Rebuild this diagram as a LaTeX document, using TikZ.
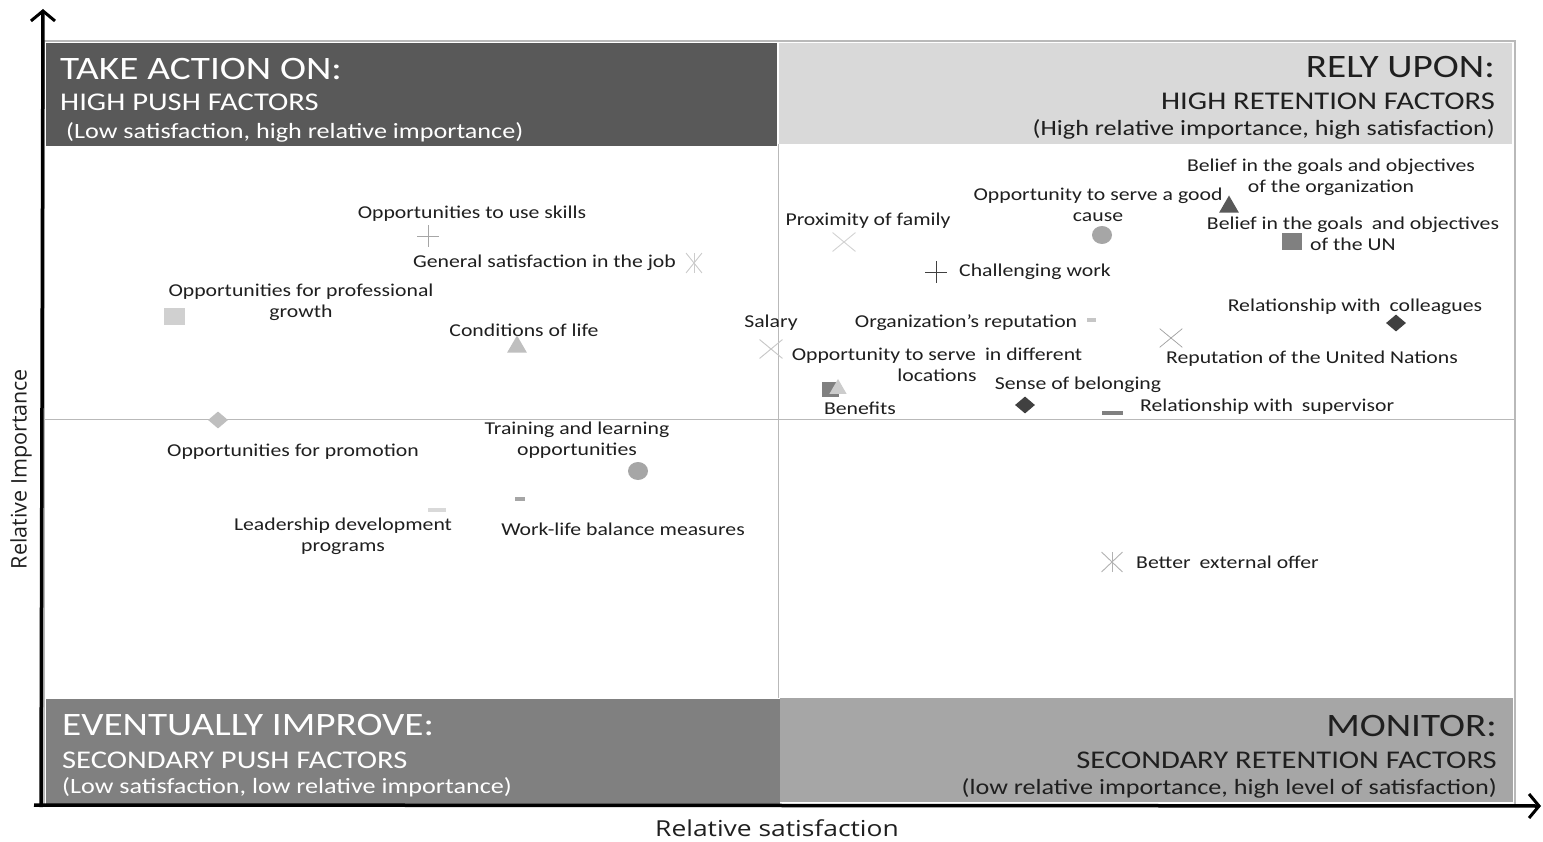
\documentclass[tikz,border=0pt]{standalone}
\usepackage{fontspec}
\setmainfont{Carlito}[FakeStretch=1.2]
\newfontfamily\axisfont{Open Sans}
\newfontfamily\axisfontw{Open Sans}[FakeStretch=1.2]
\usetikzlibrary{arrows.meta,shapes.geometric,shapes.misc}
\definecolor{dk}{HTML}{595959}
\definecolor{lt}{HTML}{D9D9D9}
\definecolor{md}{HTML}{808080}
\definecolor{mr}{HTML}{A6A6A6}
\definecolor{txt}{HTML}{1F1F1F}
\tikzset{
  lbl/.style={font=\fontsize{18.1}{21}\selectfont, inner sep=0pt, align=center, text=txt},
  hbig/.style={font=\fontsize{32.7}{36}\selectfont, inner sep=0pt},
  hmid/.style={font=\fontsize{25.5}{28}\selectfont, inner sep=0pt},
  hsml/.style={font=\fontsize{21.8}{24}\selectfont, inner sep=0pt},
  sqm/.style={rectangle, inner sep=0pt, minimum width=20pt, minimum height=17pt},
  trim/.style={regular polygon, regular polygon sides=3, inner sep=0pt, minimum size=23pt},
  diam/.style={diamond, inner sep=0pt, minimum width=20pt, minimum height=17pt},
  circm/.style={ellipse, inner sep=0pt, minimum width=20pt, minimum height=18pt},
  dashm/.style={rectangle, inner sep=0pt, minimum height=4.5pt},
  xm/.style={cross out, draw, inner sep=0pt, minimum width=22pt, minimum height=18pt, line width=0.9pt},
  plusm/.style={cross out, draw, inner sep=0pt, minimum size=14pt, rotate=45, line width=0.9pt},
  astm/.style={cross out, draw, inner sep=0pt, minimum width=15pt, minimum height=19pt, line width=0.9pt},
  axis/.style={line width=3.5pt, black, -{Straight Barb[length=10pt,width=24pt,line width=3pt]}},
  grid/.style={draw=gray!55, line width=1.2pt}
}
\begin{document}
\begin{tikzpicture}[x=1pt,y=-1pt]
\useasboundingbox[fill=white] (0,0) rectangle (1543,842);
% frame and quadrant boxes
\draw[grid] (44,41) rectangle (1515,805);
\fill[dk] (46,43) rectangle (777,146);
\fill[lt] (779,43) rectangle (1512,144);
\fill[md] (46,699) rectangle (780,805);
\fill[mr] (780,698) rectangle (1513,802);
\draw[grid, line width=1pt] (778,144) -- (778,698);
\draw[grid, line width=1pt] (44,419) -- (1515,419);
% axes
\coordinate (yo) at (41,807);
\coordinate (yt) at (43,9);
\coordinate (xo) at (34,805);
\coordinate (xt) at (1541,806);
\draw[axis] (yo) -- (yt);
\draw[axis] (xo) -- (xt);
\node[font=\axisfontw\fontsize{22}{26}\selectfont, text=txt, inner sep=0pt] (xl) at (777,828) {Relative satisfaction};
\node[font=\axisfont\fontsize{21.5}{26}\selectfont, text=txt, inner sep=0pt, rotate=90] (yl) at (21,469) {Relative Importance};
% headers
\node[hbig, text=white, anchor=base west] (h1a) at (60,80) {TAKE ACTION ON:};
\node[hmid, text=white, anchor=base west] (h1b) at (60,111) {HIGH PUSH FACTORS};
\node[hsml, text=white, anchor=base west] (h1c) at (66,139) {(Low satisfaction, high relative importance)};
\node[hbig, text=txt, anchor=base east] (h2a) at (1495,78) {RELY UPON:};
\node[hmid, text=txt, anchor=base east] (h2b) at (1495,110) {HIGH RETENTION FACTORS};
\node[hsml, text=txt, anchor=base east] (h2c) at (1495,136) {(High relative importance, high satisfaction)};
\node[hbig, text=white, anchor=base west] (h3a) at (62,735) {EVENTUALLY IMPROVE:};
\node[hmid, text=white, anchor=base west] (h3b) at (62,768) {SECONDARY PUSH FACTORS};
\node[hsml, text=white, anchor=base west] (h3c) at (62,793) {(Low satisfaction, low relative importance)};
\node[hbig, text=txt, anchor=base east] (h4a) at (1497,736) {MONITOR:};
\node[hmid, text=txt, anchor=base east] (h4b) at (1497,768) {SECONDARY RETENTION FACTORS};
\node[hsml, text=txt, anchor=base east] (h4c) at (1497,794) {(low relative importance, high level of satisfaction)};
% --- left half points
\node[lbl] (l1) at (472,214) {Opportunities to use skills};
\node[plusm, draw=gray!70] (m1) at (428,236) {};
\node[lbl, anchor=west] (l2) at (413,263) {General satisfaction in the job};
\node[astm, draw=gray!40] (m2) at (694,263) {};
\draw[gray!40, line width=0.9pt] (m2.north) -- (m2.south);
\node[lbl] (l3) at (301,302) {Opportunities for professional\\growth};
\node[sqm, fill=lt!90!gray, minimum width=21pt] (m3) at (174,317) {};
\node[lbl] (l4) at (524,330) {Conditions of life};
\node[trim, fill=gray!50] (m4) at (517,347) {};
\node[lbl] (l5) at (771,323) {Salary};
\node[xm, draw=gray!45] (m5) at (771,349) {};
\node[lbl] (l6) at (293,452) {Opportunities for promotion};
\node[diam, fill=gray!50] (m6) at (218,420) {};
\node[lbl] (l7) at (577,440) {Training and learning\\opportunities};
\node[circm, fill=gray!70] (m7) at (638,471) {};
\node[dashm, fill=mr, minimum width=10pt] (m8) at (520,499) {};
\node[lbl] (l8) at (623,529) {Work-life balance measures};
\node[dashm, fill=lt, minimum width=18pt] (m9) at (437,510) {};
\node[lbl] (l9) at (343,536) {Leadership development\\programs};
% --- right half points
\node[lbl] (r1) at (868,221) {Proximity of family};
\node[xm, draw=gray!35] (n1) at (844,242) {};
\node[lbl] (r2) at (1098,205) {Opportunity to serve a good\\cause};
\node[circm, fill=mr] (n2) at (1102,235) {};
\node[lbl] (r3) at (1331,177) {Belief in the goals and objectives\\of the organization};
\node[trim, fill=dk] (n3) at (1229,207) {};
\node[lbl, anchor=base] (r4) at (1353,230) {Belief in the goals\enspace and objectives};
\node[lbl, anchor=base west] (r4b) at (1310,251) {of the UN};
\node[sqm, fill=md] (n4) at (1292,242) {};
\node[plusm, draw=black!75] (n5) at (936,272) {};
\node[lbl, anchor=west] (r5) at (959,272) {Challenging work};
\node[lbl] (r6) at (966,323) {Organization’s reputation};
\node[dashm, fill=gray!45, minimum width=9pt] (n6) at (1091,320) {};
\node[lbl] (r7) at (937,365) {Opportunity to serve\enspace in different\\locations};
\node[sqm, fill=md, minimum width=17pt, minimum height=15pt] (n7) at (830,390) {};
\node[trim, fill=gray!40, minimum size=20pt] (n7b) at (838,389) {};
\node[lbl] (r8) at (860,408) {Benefits};
\node[lbl] (r9) at (1078,385) {Sense of belonging};
\node[diam, fill=black!75] (n9) at (1025,405) {};
\node[dashm, fill=md, minimum width=21pt] (n10) at (1112,413) {};
\node[lbl, anchor=west] (r10) at (1140,407) {Relationship with\enspace supervisor};
\node[xm, draw=gray!75, line width=0.7pt] (n11) at (1171,338) {};
\node[lbl] (r11) at (1312,359) {Reputation of the United Nations};
\node[lbl] (r12) at (1355,307) {Relationship with\enspace colleagues};
\node[diam, fill=black!75] (n12) at (1396,323) {};
\node[astm, draw=gray!60, minimum width=20pt] (n13) at (1112,562) {};
\draw[gray!60, line width=0.9pt] (n13.north) -- (n13.south);
\node[lbl, anchor=west] (r13) at (1136,562) {Better\enspace external offer};
\end{tikzpicture}
\end{document}
